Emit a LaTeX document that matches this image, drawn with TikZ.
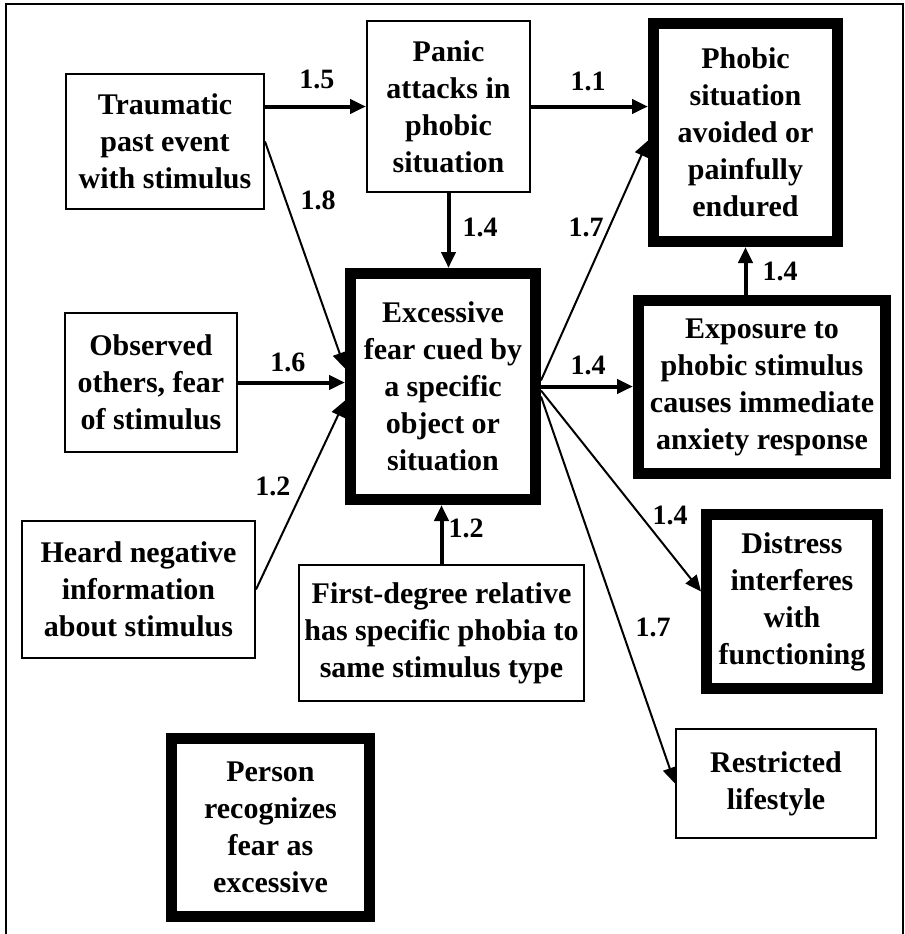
\documentclass[tikz,border=0pt]{standalone}
\usepackage{fontspec}
\setmainfont{Liberation Serif}
\usetikzlibrary{arrows.meta, positioning}

\begin{document}
\begin{tikzpicture}[
  x=0.5pt, y=-0.5pt,
  box/.style={draw, line width=1pt, fill=white, align=center, inner sep=2pt, font=\bfseries\fontsize{15}{18.5}\selectfont},
  heavybox/.style={box, line width=5.5pt},
  weight/.style={font=\bfseries\fontsize{14}{16}\selectfont, inner sep=0pt},
  link/.style={line width=1pt, -{Triangle[length=8pt, width=7pt]}},
  boldlink/.style={link, line width=2pt}
]
  \useasboundingbox (0,0) rectangle (905,934);
  \draw[line width=1.2pt] (6,934) -- (6,4) -- (903,4) -- (903,934);

  % causes
  \node[box, minimum width=99pt, minimum height=67.5pt] (trauma) at (165,141.5) {Traumatic\\past event\\with stimulus};
  \node[box, minimum width=86pt, minimum height=69.5pt] (observe) at (151,382.5) {Observed\\others, fear\\of stimulus};
  \node[box, minimum width=116.5pt, minimum height=68.5pt] (heard) at (138.5,589.5) {Heard negative\\information\\about stimulus};
  \node[box, minimum width=142.5pt, minimum height=68pt] (relative) at (441.5,633) {First-degree relative\\has specific phobia to\\same stimulus type};
  \node[box, minimum width=81.5pt, minimum height=85.5pt] (panic) at (448.5,106.5) {Panic\\attacks in\\phobic\\situation};

  % central fear and consequences
  \node[heavybox, minimum width=92.5pt, minimum height=113pt] (fear) at (443,386.5) {Excessive\\fear cued by\\a specific\\object or\\situation};
  \node[heavybox, minimum width=92pt, minimum height=109pt] (avoid) at (745.5,132.5) {Phobic\\situation\\avoided or\\painfully\\endured};
  \node[heavybox, minimum width=123.5pt, minimum height=86.5pt] (expose) at (762,387) {Exposure to\\phobic stimulus\\causes immediate\\anxiety response};
  \node[heavybox, minimum width=85.5pt, minimum height=87pt] (distress) at (792,601.5) {Distress\\interferes\\with\\functioning};
  \node[box, minimum width=100pt, minimum height=54.5pt] (restrict) at (776,783.5) {Restricted\\lifestyle};
  \node[heavybox, minimum width=99pt, minimum height=89pt] (person) at (270.5,827.5) {Person\\recognizes\\fear as\\excessive};

  % links
  \draw[boldlink] (trauma.east |- panic.west) -- (panic.west);
  \draw[boldlink] (panic.east) -- (panic.east -| avoid.west);
  \draw[link] (trauma.east) -- ([yshift=9pt]fear.west);
  \draw[boldlink] (observe.east) -- (observe.east -| fear.west);
  \draw[link] (heard.east) -- ([yshift=-7pt]fear.west);
  \draw[boldlink] (panic.south) -- (panic.south |- fear.north);
  \draw[boldlink] (relative.north) -- (relative.north |- fear.south);
  \draw[link] ([yshift=3pt]fear.east) -- ([yshift=-4pt]avoid.west);
  \draw[boldlink] (fear.east) -- (fear.east -| expose.west);
  \draw[boldlink] (expose.north -| avoid.south) -- (avoid.south);
  \draw[link] ([yshift=-2pt]fear.east) -- ([yshift=5pt]distress.west);
  \draw[link] ([yshift=-5pt]fear.east) -- (restrict.west);

  % weights
  \node[weight] (w-trauma-panic) at (317,79) {1.5};
  \node[weight] (w-trauma-fear) at (318,200) {1.8};
  \node[weight] (w-observe-fear) at (288,362) {1.6};
  \node[weight] (w-heard-fear) at (273,486) {1.2};
  \node[weight] (w-panic-fear) at (480,227) {1.4};
  \node[weight] (w-panic-avoid) at (588,81) {1.1};
  \node[weight] (w-fear-avoid) at (586,227) {1.7};
  \node[weight] (w-expose-avoid) at (780,271) {1.4};
  \node[weight] (w-fear-expose) at (588,365) {1.4};
  \node[weight] (w-fear-distress) at (670,515) {1.4};
  \node[weight] (w-relative-fear) at (466,528) {1.2};
  \node[weight] (w-fear-restrict) at (653,627) {1.7};
\end{tikzpicture}
\end{document}
